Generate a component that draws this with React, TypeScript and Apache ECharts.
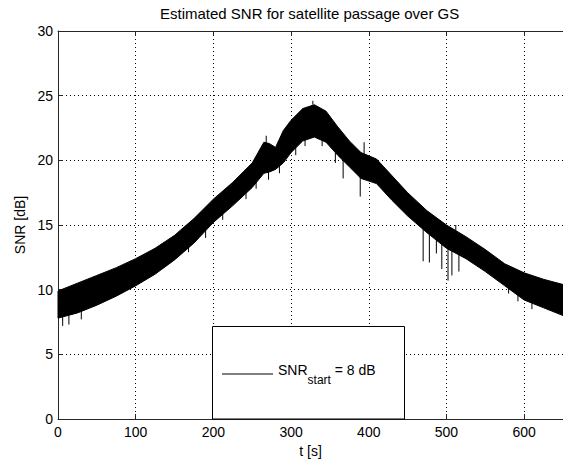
import React, { useEffect, useRef } from "react";
import * as echarts from "echarts";

// Time samples (s) at which the band envelope was read
const times = [0, 25, 50, 75, 100, 125, 150, 175, 200, 225, 250, 265, 272, 280, 290, 300, 315, 330, 345, 360, 375, 390, 410, 430, 450, 475, 500, 525, 550, 575, 600, 625, 650];
// Upper envelope of the noisy SNR trace (dB)
const upperEnvelope = [9.9, 10.5, 11.1, 11.7, 12.4, 13.2, 14.2, 15.5, 17.0, 18.3, 19.8, 21.4, 21.3, 21.0, 22.3, 23.1, 24.0, 24.3, 23.8, 22.6, 21.5, 20.6, 20.1, 18.8, 17.5, 16.1, 15.0, 14.1, 13.1, 12.0, 11.3, 10.8, 10.4];
// Lower envelope of the noisy SNR trace (dB)
const lowerEnvelope = [7.8, 8.2, 8.8, 9.5, 10.3, 11.2, 12.3, 13.6, 15.2, 16.5, 17.9, 19.0, 19.1, 19.3, 19.8, 20.6, 21.5, 21.8, 21.4, 20.4, 19.5, 18.6, 18.2, 16.9, 15.7, 14.4, 13.2, 12.4, 11.4, 10.3, 9.2, 8.6, 8.0];
// Isolated spikes: [t, from dB, to dB]
const spikes: [number, number, number][] = [
  [6, 8.0, 7.2], [14, 8.1, 7.3], [30, 8.4, 7.7], [168, 13.5, 12.9],
  [190, 14.6, 14.0], [212, 16.0, 15.4], [242, 17.6, 17.0], [255, 18.4, 17.8],
  [268, 21.3, 21.9], [271, 19.1, 18.5], [285, 19.6, 19.0], [306, 21.0, 20.4],
  [318, 21.6, 21.1], [328, 24.3, 24.6], [340, 21.7, 21.1], [357, 20.6, 19.8],
  [367, 20.0, 18.6], [389, 18.7, 17.2], [394, 20.5, 21.4], [470, 14.7, 12.2],
  [478, 14.4, 12.1], [487, 14.0, 12.8], [494, 13.6, 11.6], [502, 13.2, 10.7],
  [507, 13.0, 11.1], [512, 14.4, 15.0], [516, 12.8, 11.4], [580, 10.2, 9.7],
  [592, 9.6, 9.1], [610, 9.0, 8.5],
];

const titleText = "Estimated SNR for satellite passage over GS";
const xName = "t [s]";
const yName = "SNR [dB]";
const seriesName = "SNR_start = 8 dB";
const xMin = 0, xMax = 650, xStep = 100;
const yMin = 0, yMax = 30, yStep = 5;

export default function App() {
  const ref = useRef<HTMLDivElement>(null);
  useEffect(() => {
    document.body.style.margin = "0";
    const chart = echarts.init(ref.current!, null, { renderer: "svg" });
    const font = "'Liberation Sans', Arial, sans-serif";
    const axisColor = "#262626";
    const bandData = times.map((t, i) => [t, upperEnvelope[i], lowerEnvelope[i]]);
    const grid = { left: 58, top: 31, width: 507, height: 388 };

    chart.setOption({
      animation: false,
      backgroundColor: "#fff",
      title: {
        text: titleText,
        left: 160,
        top: 6,
        padding: 0,
        textStyle: { fontSize: 15, fontWeight: "normal", color: "#000", fontFamily: font },
      },
      grid,
      legend: {
        left: 222,
        top: 363,
        padding: 0,
        z: 10,
        data: [{ name: seriesName, icon: "rect", itemStyle: { color: "#000" } }],
        itemWidth: 51,
        itemHeight: 1,
        itemGap: 5,
        selectedMode: false,
        formatter: () => "{m|SNR}{s|start}{m| = 8 dB}",
        textStyle: {
          color: "#000",
          fontFamily: font,
          rich: {
            m: { fontSize: 14, color: "#000", fontFamily: font, padding: [0, 0, 8, 0] },
            s: { fontSize: 12, color: "#000", fontFamily: font, padding: [12, 0, 0, 0] },
          },
        },
      },
      graphic: [
        {
          type: "rect",
          z: 8,
          shape: { x: 212.5, y: 326.5, width: 192, height: 92.5 },
          style: { fill: "#fff", stroke: "#000", lineWidth: 1 },
          silent: true,
        },
      ],
      xAxis: [
        {
          type: "value",
          position: "bottom",
          min: xMin,
          max: xMax,
          interval: xStep,
          name: xName,
          nameLocation: "middle",
          nameGap: 18,
          nameTextStyle: { fontSize: 14, color: "#000", fontFamily: font },
          axisLine: { show: true, lineStyle: { color: axisColor, width: 1 } },
          axisTick: { show: true, inside: true, length: 5, lineStyle: { color: axisColor } },
          axisLabel: { margin: 6, fontSize: 14, color: "#000", fontFamily: font, showMaxLabel: false },
          splitLine: { show: true, lineStyle: { color: "#000", type: [1, 3], width: 1 } },
        },
        {
          type: "value",
          position: "top",
          min: xMin,
          max: xMax,
          interval: xStep,
          axisLine: { show: true, lineStyle: { color: axisColor, width: 1 } },
          axisTick: { show: true, inside: true, length: 5, lineStyle: { color: axisColor } },
          axisLabel: { show: false },
          splitLine: { show: false },
        },
      ],
      yAxis: [
        {
          type: "value",
          position: "left",
          min: yMin,
          max: yMax,
          interval: yStep,
          name: yName,
          nameLocation: "middle",
          nameGap: 31,
          nameTextStyle: { fontSize: 14, color: "#000", fontFamily: font },
          axisLine: { show: true, lineStyle: { color: axisColor, width: 1 } },
          axisTick: { show: true, inside: true, length: 5, lineStyle: { color: axisColor } },
          axisLabel: { margin: 5, fontSize: 14, color: "#000", fontFamily: font },
          splitLine: { show: true, lineStyle: { color: "#000", type: [1, 3], width: 1 } },
        },
      ],
      series: [
        {
          name: seriesName,
          type: "custom",
          data: bandData,
          encode: { x: 0, y: [1, 2] },
          itemStyle: { color: "#000" },
          silent: true,
          z: 2,
          renderItem: (params: any, api: any) => {
            if (params.dataIndexInside !== 0) return null;
            const n = params.dataInsideLength;
            const top: number[][] = [];
            const bottom: number[][] = [];
            for (let i = 0; i < n; i++) {
              const t = api.value(0, i);
              top.push(api.coord([t, api.value(1, i)]));
              bottom.push(api.coord([t, api.value(2, i)]));
            }
            const points = top.concat(bottom.reverse());
            return {
              type: "polygon",
              shape: { points },
              style: { fill: "#000", stroke: "#000", lineWidth: 1 },
            };
          },
        },
        {
          name: "spikes",
          type: "custom",
          data: spikes,
          encode: { x: 0, y: [1, 2] },
          silent: true,
          z: 3,
          renderItem: (params: any, api: any) => {
            const p1 = api.coord([api.value(0), api.value(1)]);
            const p2 = api.coord([api.value(0), api.value(2)]);
            return {
              type: "line",
              shape: { x1: p1[0], y1: p1[1], x2: p2[0], y2: p2[1] },
              style: { stroke: "#000", lineWidth: 1 },
            };
          },
        },
      ],
    });
    return () => chart.dispose();
  }, []);
  return <div ref={ref} style={{ width: 563, height: 463 }} />;
}
